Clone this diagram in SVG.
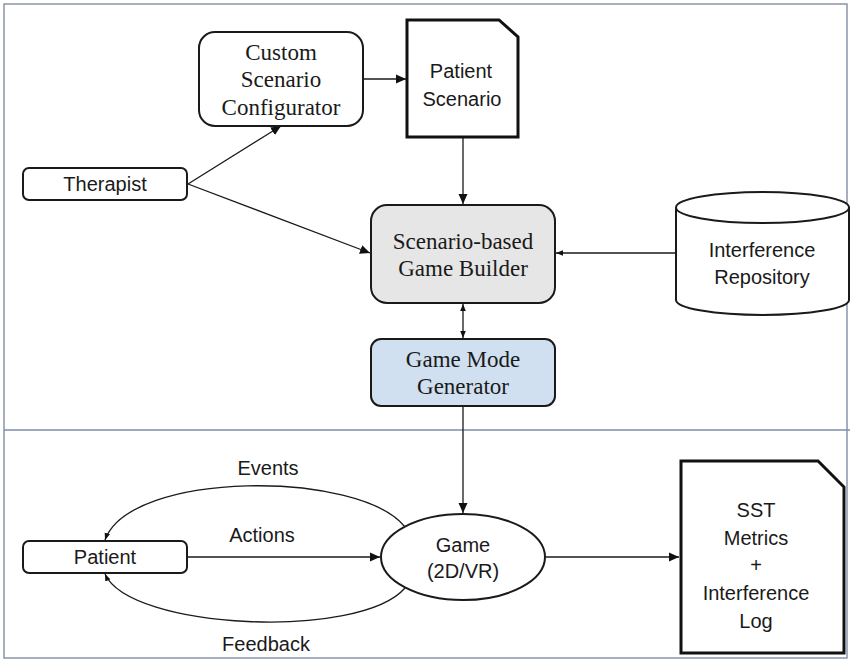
<svg xmlns="http://www.w3.org/2000/svg" width="850" height="661" viewBox="0 0 850 661">
  <style>
    .serif { font-family: "Liberation Serif", "Times New Roman", serif; font-size: 23px; fill: #1a1a1a; text-anchor: middle; }
    .sans { font-family: "Liberation Sans", Arial, sans-serif; font-size: 20px; fill: #1a1a1a; text-anchor: middle; }
    .box { stroke: #1a1a1a; stroke-width: 2; }
    .doc { fill: #ffffff; stroke: #111111; stroke-width: 3; stroke-linejoin: miter; }
    .edge { fill: none; stroke: #1a1a1a; stroke-width: 1.3; }
  </style>
  <defs>
    <marker id="arrow" viewBox="0 0 10 10" refX="10" refY="5" markerWidth="10" markerHeight="10" markerUnits="userSpaceOnUse" orient="auto">
      <path d="M0,0.5 L10,5 L0,9.5 Z" fill="#111111"/>
    </marker>
    <marker id="arrow-small" viewBox="0 0 10 10" refX="10" refY="5" markerWidth="7" markerHeight="7" markerUnits="userSpaceOnUse" orient="auto-start-reverse">
      <path d="M0,1 L10,5 L0,9 Z" fill="#111111"/>
    </marker>
  </defs>

  <!-- frame and section divider -->
  <rect x="0" y="0" width="850" height="661" fill="#ffffff"/>
  <rect x="4" y="4" width="843" height="654" fill="none" stroke="#8a95ab" stroke-width="1.5"/>
  <line x1="4" y1="430" x2="850" y2="430" stroke="#7d8cab" stroke-width="1.5"/>

  <!-- connectors -->
  <g id="connectors">
    <line class="edge" x1="363" y1="79" x2="406" y2="79" marker-end="url(#arrow)"/>
    <line class="edge" x1="188" y1="184" x2="281" y2="126" marker-end="url(#arrow)"/>
    <line class="edge" x1="188" y1="184" x2="370" y2="253" marker-end="url(#arrow)"/>
    <line class="edge" x1="463" y1="138" x2="463" y2="204" marker-end="url(#arrow)"/>
    <line class="edge" x1="676" y1="253" x2="556" y2="253" marker-end="url(#arrow-small)"/>
    <line class="edge" x1="463" y1="304" x2="463" y2="338" marker-start="url(#arrow-small)" marker-end="url(#arrow-small)"/>
    <line class="edge" x1="463" y1="406" x2="463" y2="513" marker-end="url(#arrow)"/>
    <line class="edge" x1="188" y1="557" x2="380" y2="557" marker-end="url(#arrow)"/>
    <line class="edge" x1="545" y1="557" x2="679" y2="557" marker-end="url(#arrow)"/>
    <path class="edge" d="M405,527 C360,470 130,470 105,540" marker-end="url(#arrow-small)"/>
    <path class="edge" d="M405,588 C360,640 130,630 105,574" marker-end="url(#arrow-small)"/>
    <text class="sans" x="268" y="475">Events</text>
    <text class="sans" x="262" y="542">Actions</text>
    <text class="sans" x="266" y="651">Feedback</text>
  </g>

  <g id="custom-scenario-configurator">
    <rect class="box" x="199" y="32" width="164" height="94" rx="16" fill="#ffffff"/>
    <text class="serif" x="281" y="60">Custom</text>
    <text class="serif" x="281" y="87">Scenario</text>
    <text class="serif" x="281" y="115">Configurator</text>
  </g>

  <g id="patient-scenario">
    <path class="doc" d="M407,20 L499,20 L518,37 L518,137 L407,137 Z"/>
    <text class="sans" x="461" y="78">Patient</text>
    <text class="sans" x="462" y="106">Scenario</text>
  </g>

  <g id="therapist">
    <rect class="box" x="23" y="168" width="164" height="32" rx="6" fill="#ffffff"/>
    <text class="sans" x="105" y="191">Therapist</text>
  </g>

  <g id="scenario-based-game-builder">
    <rect class="box" x="371" y="205" width="184" height="98" rx="16" fill="#e6e6e6"/>
    <text class="serif" x="463" y="249">Scenario-based</text>
    <text class="serif" x="463" y="276">Game Builder</text>
  </g>

  <g id="interference-repository">
    <path d="M676,207.5 L676,300 A86.5,15 0 0 0 849,300 L849,207.5" fill="#ffffff" stroke="#1a1a1a" stroke-width="2"/>
    <ellipse cx="762.5" cy="207.5" rx="86.5" ry="15.5" fill="#ffffff" stroke="#1a1a1a" stroke-width="2"/>
    <text class="sans" x="762" y="257">Interference</text>
    <text class="sans" x="762" y="284">Repository</text>
  </g>

  <g id="game-mode-generator">
    <rect class="box" x="371" y="339" width="184" height="67" rx="10" fill="#d0e0f0"/>
    <text class="serif" x="463" y="367">Game Mode</text>
    <text class="serif" x="463" y="394">Generator</text>
  </g>

  <g id="patient">
    <rect class="box" x="23" y="541" width="164" height="32" rx="6" fill="#ffffff"/>
    <text class="sans" x="105" y="564">Patient</text>
  </g>

  <g id="game">
    <ellipse cx="463" cy="557" rx="82" ry="43" fill="#ffffff" stroke="#1a1a1a" stroke-width="2"/>
    <text class="sans" x="463" y="552">Game</text>
    <text class="sans" x="463" y="578">(2D/VR)</text>
  </g>

  <g id="sst-metrics-log">
    <path class="doc" d="M681,461 L818,461 L844,487 L844,653 L681,653 Z"/>
    <text class="sans" x="756" y="517">SST</text>
    <text class="sans" x="756" y="545">Metrics</text>
    <text class="sans" x="756" y="572">+</text>
    <text class="sans" x="756" y="600">Interference</text>
    <text class="sans" x="756" y="628">Log</text>
  </g>
</svg>
